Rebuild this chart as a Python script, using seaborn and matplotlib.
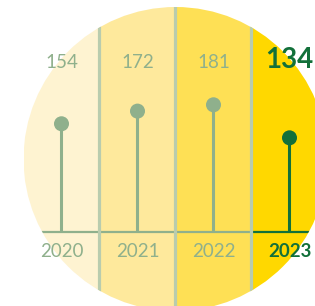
import numpy as np
import pandas as pd
import matplotlib
matplotlib.use('Agg')
import matplotlib.pyplot as plt
import matplotlib.transforms as mtransforms
from matplotlib.patches import Ellipse
import seaborn as sns

# Data
years = ['2020', '2021', '2022', '2023']
values = [154, 172, 181, 134]
highlight = [False, False, False, True]

# Colours
band_colors = ['#fef3d1', '#fee99c', '#fee055', '#ffd800']
muted = '#8fb08c'
dark = '#12703a'
sep_color = '#b9ccae'

sns.set_theme(style='white')
plt.rcParams['font.family'] = ['Lato', 'DejaVu Sans']

df = pd.DataFrame({'year': years, 'value': values, 'highlight': highlight})
df['pos'] = np.arange(len(df))

fig = plt.figure(figsize=(3.15, 3.06), dpi=100)
ax = fig.add_axes([0, 0, 1, 1])

# layout in pixels: one band = 76 px, one unit = 0.7028 px, baseline 74 px up
px_x, px_y, x0_px, base_px = 76, 0.7028, 61.5, 74

# round frame everything is clipped to
circle = Ellipse((1.5, (147 - base_px) / px_y), 4, 304 / px_y,
                 fill=False, lw=0, transform=ax.transData)
ax.add_patch(circle)

for i, c in enumerate(band_colors):
    span = ax.axvspan(i - 0.5, i + 0.5, color=c, lw=0, zorder=0)
    span.set_clip_path(circle)

# baseline, one piece per band
for i, hl in enumerate(highlight):
    bl = ax.hlines(0, i - 0.5, i + 0.5, color=dark if hl else muted, lw=1.6, zorder=2)
    bl.set_clip_path(circle)

for x in df['pos'][:-1] + 0.5:
    sep = ax.axvline(x, color=sep_color, lw=2.3, zorder=3)
    sep.set_clip_path(circle)

# lollipops
stem_colors = [dark if hl else muted for hl in highlight]
ax.vlines(df['pos'], 0, df['value'], colors=stem_colors, lw=2.2, zorder=4)
sns.scatterplot(data=df, x='pos', y='value', hue='highlight',
                palette={False: muted, True: dark}, s=117, linewidth=0,
                legend=False, ax=ax, zorder=5)

trans = mtransforms.blended_transform_factory(ax.transData, ax.transAxes)
for i, (yr, v, hl) in enumerate(zip(years, values, highlight)):
    col = dark if hl else muted
    ax.text(i, 238 / 306, str(v), transform=trans, ha='center', va='baseline',
            fontsize=20 if hl else 13.5, fontweight='bold' if hl else 'normal', color=col)
    ax.text(i, 49 / 306, yr, transform=trans, ha='center', va='baseline',
            fontsize=13.5, fontweight='bold' if hl else 'normal', color=col)

ax.set_xlim(-x0_px / px_x, (315 - x0_px) / px_x)
ax.set_ylim(-base_px / px_y, (306 - base_px) / px_y)
ax.set_axis_off()

fig.savefig('out.png', dpi=100)
